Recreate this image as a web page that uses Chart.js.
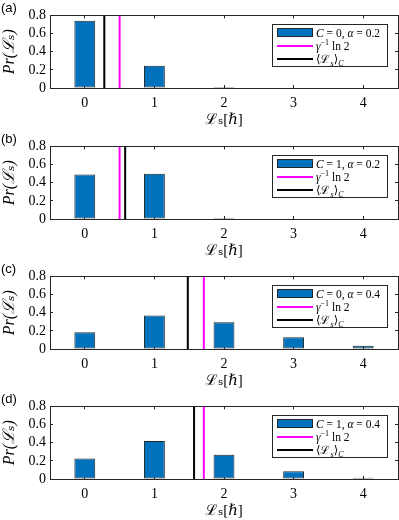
<!DOCTYPE html>
<html>
<head>
<meta charset="utf-8">
<script src="https://cdn.jsdelivr.net/npm/chart.js@4.4.0/dist/chart.umd.min.js"></script>
<style>
  body { margin: 0; background: #fff; }
  #wrap { position: relative; width: 399px; height: 520px; }
  .panel { position: absolute; left: 0; width: 399px; height: 130px; }
  .tag { position: absolute; left: 1px; top: 0px; font: 13px "Liberation Sans", Arial, sans-serif; color: #000; }
  .legend {
    position: absolute; left: 272px; top: 24px; width: 114px;
    border: 1px solid #262626; background: #fff;
    font: 11.5px "Liberation Serif", "DejaVu Serif", serif; color: #000;
    padding: 1px 0 1px 0;
  }
  .legend .row { display: flex; align-items: center; height: 13px; white-space: nowrap; }
  .legend .sw { width: 36px; margin: 0 3px 0 4px; flex: none; }
  .legend .patch { height: 9px; background: #0072BD; border: 1px solid #262626; box-sizing: border-box; }
  .legend .ln { height: 2px; }
  .legend sub, .legend sup { font-size: 8px; line-height: 0; }
</style>
</head>
<body>
<div id="wrap"></div>
<script>
// x positions of the bars (L_s in units of hbar)
const categories = [0, 1, 2, 3, 4];
const xTicks = [0, 1, 2, 3, 4];
const yTicks = [0, 0.2, 0.4, 0.6, 0.8];

// Pr(L_s) for the four panels
const probA = [0.74, 0.245, 0.012, 0, 0];
const probB = [0.49, 0.50, 0.01, 0, 0];
const probC = [0.185, 0.37, 0.295, 0.13, 0.035];
const probD = [0.225, 0.42, 0.268, 0.085, 0.015];

// vertical markers
const gammaLn2 = [0.5, 0.5, 1.71, 1.71];   // gamma^-1 ln 2 (magenta)
const meanLs = [0.28, 0.58, 1.48, 1.57];   // <L_s>_C (black)

const cValues = [0, 1, 0, 1];
const alphaValues = [0.2, 0.2, 0.4, 0.4];
const panelTags = ['(a)', '(b)', '(c)', '(d)'];
const panelTops = [0, 131, 261, 391];

const allProbs = [probA, probB, probC, probD];

const barBlue = '#0072BD';
const axisColor = '#262626';
const serif = '"Liberation Serif", "DejaVu Serif", serif';

function axisTicks(values) {
  return (axis) => { axis.ticks = values.map(v => ({ value: v })); };
}

function makePanel(i) {
  const wrap = document.getElementById('wrap');
  const panel = document.createElement('div');
  panel.className = 'panel';
  panel.style.top = panelTops[i] + 'px';
  panel.innerHTML = `<canvas></canvas>
    <div class="tag">${panelTags[i]}</div>
    <div class="legend">
      <div class="row"><div class="sw patch"></div><span><i>C</i> = ${cValues[i]}, <i>α</i> = ${alphaValues[i]}</span></div>
      <div class="row"><div class="sw ln" style="background:#FF00FF"></div><span><i>γ</i><sup>−1</sup> ln 2</span></div>
      <div class="row"><div class="sw ln" style="background:#000"></div><span>⟨ℒ<sub><i>s</i></sub>⟩<sub><i>C</i></sub></span></div>
    </div>`;
  wrap.appendChild(panel);

  const barData = categories.map((c, k) => ({ x: c, y: allProbs[i][k] }));

  const grid = { drawOnChartArea: false, drawTicks: true, tickLength: -3, tickColor: axisColor, lineWidth: 1, offset: false };
  const border = { display: true, color: axisColor, width: 1 };

  new Chart(panel.querySelector('canvas'), {
    type: 'bar',
    data: {
      datasets: [
        {
          type: 'line',
          label: 'mean',
          data: [{ x: meanLs[i], y: 0 }, { x: meanLs[i], y: 0.8 }],
          borderColor: '#000', borderWidth: 2, pointRadius: 0
        },
        {
          type: 'line',
          label: 'gamma',
          data: [{ x: gammaLn2[i], y: 0 }, { x: gammaLn2[i], y: 0.8 }],
          borderColor: '#FF00FF', borderWidth: 2, pointRadius: 0
        },
        {
          label: 'Pr',
          data: barData,
          backgroundColor: barBlue,
          borderColor: axisColor,
          borderWidth: 1,
          borderSkipped: false,
          categoryPercentage: 1,
          barPercentage: 0.3
        }
      ]
    },
    options: {
      responsive: true,
      maintainAspectRatio: false,
      animation: false,
      layout: { padding: { top: 12, right: 1, left: 0, bottom: 0 } },
      plugins: { legend: { display: false }, tooltip: { enabled: false } },
      scales: {
        x: {
          type: 'linear', position: 'bottom', min: -0.5, max: 4.5, offset: false,
          afterBuildTicks: axisTicks(xTicks),
          afterFit: (a) => { a.height = 42; },
          grid, border,
          ticks: { color: '#000', font: { family: serif, size: 14 }, padding: 10, maxRotation: 0, autoSkip: false },
          title: { display: true, text: 'ℒₛ[ℏ]', color: '#000', font: { family: serif, size: 15 }, padding: { top: 0, bottom: 1 } }
        },
        x2: {
          type: 'linear', position: 'top', min: -0.5, max: 4.5, offset: false,
          afterBuildTicks: axisTicks(xTicks),
          afterFit: (a) => { a.height = 0; },
          grid, border,
          ticks: { display: false, autoSkip: false }
        },
        y: {
          type: 'linear', position: 'left', min: 0, max: 0.8,
          afterBuildTicks: axisTicks(yTicks),
          afterFit: (a) => { a.width = 50; },
          grid, border,
          ticks: {
            color: '#000', font: { family: serif, size: 14 }, padding: 7, autoSkip: false,
            callback: (v) => v === 0 ? '0' : v.toFixed(1)
          },
          title: { display: true, text: 'Pr(ℒₛ)', color: '#000', font: { family: serif, size: 16, style: 'italic' }, padding: { top: 0, bottom: 0 } }
        },
        y2: {
          type: 'linear', position: 'right', min: 0, max: 0.8,
          afterBuildTicks: axisTicks(yTicks),
          afterFit: (a) => { a.width = 0; },
          grid, border,
          ticks: { display: false, autoSkip: false }
        }
      }
    }
  });
}

for (let i = 0; i < 4; i++) makePanel(i);
</script>
</body>
</html>
